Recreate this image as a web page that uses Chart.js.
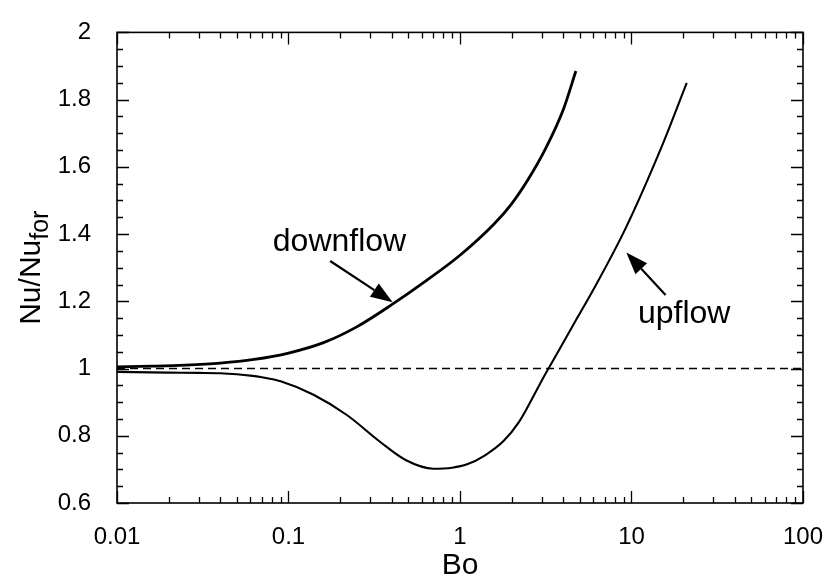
<!DOCTYPE html>
<html><head><meta charset="utf-8">
<script src="https://cdn.jsdelivr.net/npm/chart.js@4.4.1/dist/chart.umd.min.js"></script>
<style>html,body{margin:0;padding:0;background:#fff}</style>
</head><body>
<div style="width:835px;height:585px"><canvas id="c" width="835" height="585"></canvas></div>
<script>
// ---- data ----
const downflowBo = [0.01, 0.016, 0.025, 0.04, 0.063, 0.1, 0.16, 0.25, 0.4, 0.63, 1, 1.58, 2, 2.5, 3.16, 4, 4.74];
const downflowNu = [1.005, 1.007, 1.010, 1.016, 1.027, 1.046, 1.077, 1.124, 1.19, 1.26, 1.337, 1.43, 1.49, 1.563, 1.655, 1.77, 1.885];
const upflowBo = [0.01, 0.02, 0.03, 0.04, 0.05, 0.06, 0.07, 0.09, 0.14, 0.22, 0.34, 0.485, 0.7, 0.9, 1.1, 1.4, 1.8, 2.2, 2.6, 3.1, 3.6, 4.6, 6, 9.3, 15, 21];
const upflowNu = [0.99, 0.988, 0.987, 0.986, 0.983, 0.979, 0.974, 0.962, 0.922, 0.861, 0.783, 0.727, 0.702, 0.705, 0.715, 0.742, 0.785, 0.84, 0.905, 0.978, 1.036, 1.132, 1.235, 1.42, 1.66, 1.85];
const refBo = [0.01, 100];
const refNu = [1, 1];
const xTickValues = [0.01, 0.1, 1, 10, 100];
const xTickLabels = ['0.01', '0.1', '1', '10', '100'];
const yTickValues = [0.6, 0.8, 1, 1.2, 1.4, 1.6, 1.8, 2];
const yTickLabels = ['0.6', '0.8', '1', '1.2', '1.4', '1.6', '1.8', '2'];
const xTitle = 'Bo';
const yTitleMain = 'Nu/Nu';
const yTitleSub = 'for';
const labelTexts = ['downflow', 'upflow'];
// annotation anchors in data units (Bo, Nu)
const labelAnchors = [[0.081, 1.349], [10.9, 1.134]];
const arrowTails = [[0.175, 1.32], [15.8, 1.219]];
const arrowTips = [[0.405, 1.197], [9.33, 1.345]];

const FONT = '"Liberation Sans", Arial, Helvetica, sans-serif';
const pts = (xs, ys) => xs.map((v, i) => ({x: v, y: ys[i]}));

const framePlugin = {
  id: 'frame',
  afterDatasetsDraw(chart) {
    const {ctx, chartArea: a, scales: {x, y}} = chart;
    ctx.save();
    ctx.strokeStyle = '#000';
    ctx.lineWidth = 1.6;
    ctx.strokeRect(a.left, a.top, a.right - a.left, a.bottom - a.top);
    ctx.lineWidth = 1.3;
    ctx.beginPath();
    for (let d = -2; d <= 2; d++) {
      for (let m = 1; m <= 9; m++) {
        if (d === 2 && m > 1) break;
        const v = m * Math.pow(10, d);
        const px = Math.round(x.getPixelForValue(v)) + 0.5;
        const L = m === 1 ? 12 : 6;
        ctx.moveTo(px, a.bottom); ctx.lineTo(px, a.bottom - L);
        ctx.moveTo(px, a.top); ctx.lineTo(px, a.top + L);
      }
    }
    for (let i = 0; i <= 28; i++) {
      const v = 0.6 + i * 0.05;
      const py = Math.round(y.getPixelForValue(v)) + 0.5;
      const L = i % 4 === 0 ? 12 : 6;
      ctx.moveTo(a.left, py); ctx.lineTo(a.left + L, py);
      ctx.moveTo(a.right, py); ctx.lineTo(a.right - L, py);
    }
    ctx.stroke();

    // annotations
    ctx.fillStyle = '#000';
    ctx.font = '32px ' + FONT;
    ctx.textBaseline = 'alphabetic';
    ctx.textAlign = 'left';
    labelTexts.forEach((t, i) => {
      ctx.fillText(t, x.getPixelForValue(labelAnchors[i][0]), y.getPixelForValue(labelAnchors[i][1]));
      const x0 = x.getPixelForValue(arrowTails[i][0]), y0 = y.getPixelForValue(arrowTails[i][1]);
      const x1 = x.getPixelForValue(arrowTips[i][0]), y1 = y.getPixelForValue(arrowTips[i][1]);
      const ang = Math.atan2(y1 - y0, x1 - x0);
      const hl = 22, hw = 8;
      const bx = x1 - hl * Math.cos(ang), by = y1 - hl * Math.sin(ang);
      ctx.lineWidth = 2.2;
      ctx.beginPath(); ctx.moveTo(x0, y0); ctx.lineTo(bx, by); ctx.stroke();
      ctx.beginPath();
      ctx.moveTo(x1, y1);
      ctx.lineTo(bx + hw * Math.sin(ang), by - hw * Math.cos(ang));
      ctx.lineTo(bx - hw * Math.sin(ang), by + hw * Math.cos(ang));
      ctx.closePath(); ctx.fill();
    });

    // y title with subscript
    const cy = (a.top + a.bottom) / 2;
    ctx.font = '30px ' + FONT;
    const w1 = ctx.measureText(yTitleMain).width;
    ctx.font = '25px ' + FONT;
    const w2 = ctx.measureText(yTitleSub).width;
    ctx.translate(40, cy + (w1 + w2) / 2);
    ctx.rotate(-Math.PI / 2);
    ctx.font = '30px ' + FONT;
    ctx.fillText(yTitleMain, 0, 0);
    ctx.font = '25px ' + FONT;
    ctx.fillText(yTitleSub, w1, 8);
    ctx.restore();
  }
};

new Chart(document.getElementById('c'), {
  type: 'line',
  data: {
    datasets: [
      {data: pts(downflowBo, downflowNu), borderColor: '#000', borderWidth: 2.8, pointRadius: 0, cubicInterpolationMode: 'monotone', fill: false},
      {data: pts(upflowBo, upflowNu), borderColor: '#000', borderWidth: 2.1, pointRadius: 0, cubicInterpolationMode: 'monotone', fill: false},
      {data: pts(refBo, refNu), borderColor: '#000', borderWidth: 1.5, borderDash: [8, 5], pointRadius: 0, fill: false}
    ]
  },
  options: {
    responsive: false,
    animation: false,
    devicePixelRatio: 1,
    layout: {padding: {left: 0, top: 21, right: 23, bottom: 0}},
    plugins: {legend: {display: false}, tooltip: {enabled: false}},
    scales: {
      x: {
        type: 'logarithmic', min: 0.01, max: 100,
        grid: {display: false}, border: {display: false},
        afterBuildTicks: s => { s.ticks = xTickValues.map(v => ({value: v})); },
        afterFit: s => { s.height = 82; },
        ticks: {color: '#000', font: {family: FONT, size: 24}, padding: 12, maxRotation: 0, autoSkip: false,
          callback: (v, i) => xTickLabels[i]},
        title: {display: true, text: xTitle, color: '#000', font: {family: FONT, size: 30}, padding: {top: 0, bottom: 1}}
      },
      y: {
        type: 'linear', min: 0.6, max: 2,
        grid: {display: false}, border: {display: false},
        afterBuildTicks: s => { s.ticks = yTickValues.map(v => ({value: v})); },
        afterFit: s => { s.width = 117; },
        ticks: {color: '#000', font: {family: FONT, size: 24}, padding: 18, autoSkip: false,
          callback: (v, i) => yTickLabels[i]}
      }
    }
  },
  plugins: [framePlugin]
});
</script>
</body></html>
